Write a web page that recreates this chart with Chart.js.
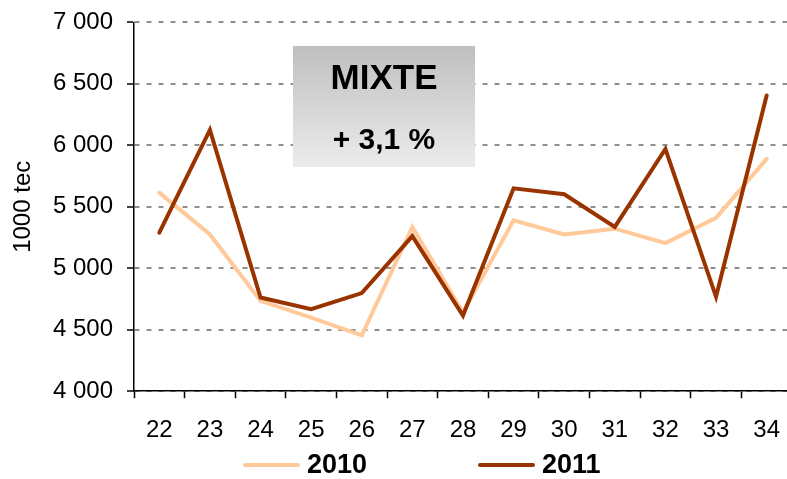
<!DOCTYPE html>
<html>
<head>
<meta charset="utf-8">
<script src="https://cdn.jsdelivr.net/npm/chart.js@4/dist/chart.umd.min.js"></script>
<style>
  html, body { margin: 0; padding: 0; background: #fff; overflow: hidden; }
  #wrap { position: relative; width: 787px; height: 479px; overflow: hidden; }
  #chart { position: absolute; left: 0; top: -6px; }
</style>
</head>
<body>
<div id="wrap"><canvas id="chart" width="798" height="485"></canvas></div>
<script>
// --- DATA ---
const weeks = ["22", "23", "24", "25", "26", "27", "28", "29", "30", "31", "32", "33", "34"];
const values2010 = [5615, 5275, 4735, 4598, 4455, 5335, 4640, 5390, 5275, 5322, 5205, 5410, 5890];
const values2011 = [5290, 6125, 4762, 4667, 4798, 5262, 4615, 5650, 5602, 5336, 5970, 4768, 6405];
const yTicks = [4000, 4500, 5000, 5500, 6000, 6500, 7000];
const boxTitle = "MIXTE";
const boxValue = "+ 3,1 %";

const FONT = "'Liberation Sans', Arial, sans-serif";
const OFF = 6; // canvas is shifted up by this many px

// thousands with a space : 7000 -> "7 000"
function fmt(v) {
  return String(v).replace(/\B(?=(\d{3})+(?!\d))/g, " ");
}

// grey box with the title, drawn over the grid but under the lines
const infoBox = {
  id: "infoBox",
  beforeDatasetsDraw(chart) {
    const ctx = chart.ctx;
    const x = 293, y = 46 + OFF, w = 182, h = 121;
    ctx.save();
    const grad = ctx.createLinearGradient(0, y, 0, y + h);
    grad.addColorStop(0, "#bfbfbf");
    grad.addColorStop(1, "#ececec");
    ctx.fillStyle = grad;
    ctx.fillRect(x, y, w, h);
    ctx.fillStyle = "#000";
    ctx.textAlign = "center";
    ctx.textBaseline = "middle";
    ctx.font = "bold 35px " + FONT;
    ctx.fillText(boxTitle, x + w / 2, 79 + OFF);
    ctx.font = "bold 30px " + FONT;
    ctx.fillText(boxValue, x + w / 2, 141 + OFF);
    ctx.restore();
  },
};

// legend at the bottom: short line + bold year
const bottomLegend = {
  id: "bottomLegend",
  afterDraw(chart) {
    const ctx = chart.ctx;
    const starts = [243, 478];
    const y = 465 + OFF;
    ctx.save();
    ctx.font = "bold 27px " + FONT;
    ctx.textBaseline = "middle";
    ctx.textAlign = "left";
    chart.data.datasets.forEach((ds, i) => {
      const x = starts[i];
      ctx.strokeStyle = ds.borderColor;
      ctx.lineWidth = 4;
      ctx.lineCap = "round";
      ctx.beginPath();
      ctx.moveTo(x + 2, y);
      ctx.lineTo(x + 55, y);
      ctx.stroke();
      ctx.fillStyle = "#000";
      ctx.fillText(ds.label, x + 64, y + 1);
    });
    ctx.restore();
  },
};

new Chart(document.getElementById("chart"), {
  type: "line",
  data: {
    labels: weeks,
    datasets: [
      {
        label: "2010",
        data: values2010,
        borderColor: "#ffc999",
        backgroundColor: "#ffc999",
        borderWidth: 4,
        order: 1,
      },
      {
        label: "2011",
        data: values2011,
        borderColor: "#993300",
        backgroundColor: "#993300",
        borderWidth: 4,
        order: 0,
      },
    ],
  },
  options: {
    responsive: false,
    animation: false,
    events: [],
    elements: {
      point: { radius: 0 },
      line: { tension: 0, borderCapStyle: "round", borderJoinStyle: "miter" },
    },
    layout: { padding: { top: 0, right: 0, bottom: 16, left: 0 } },
    plugins: {
      legend: { display: false },
      tooltip: { enabled: false },
    },
    scales: {
      x: {
        offset: true,
        grid: {
          offset: true,
          drawOnChartArea: false,
          drawTicks: true,
          tickLength: 7,
          tickColor: "#000",
          tickWidth: 1.5,
        },
        border: { color: "#000", width: 1.5 },
        ticks: {
          color: "#000",
          padding: 18,
          maxRotation: 0,
          autoSkip: false,
          font: { family: FONT, size: 24 },
        },
      },
      y: {
        min: yTicks[0],
        max: yTicks[yTicks.length - 1],
        afterBuildTicks: (scale) => {
          scale.ticks = yTicks.map((v) => ({ value: v }));
        },
        afterFit: (scale) => {
          scale.width = 134;
        },
        grid: {
          color: "#8f8f8f",
          lineWidth: 2,
          drawTicks: true,
          tickLength: 7,
          tickColor: "#000",
          tickWidth: 1.5,
          tickBorderDash: [],
        },
        border: { color: "#000", width: 1.5, dash: [5, 7] },
        ticks: {
          color: "#000",
          padding: 14,
          font: { family: FONT, size: 24 },
          callback: (v) => fmt(v),
        },
        title: {
          display: true,
          text: "1000 tec",
          color: "#000",
          padding: { top: 9, bottom: 0 },
          font: { family: FONT, size: 24 },
        },
      },
    },
  },
  plugins: [infoBox, bottomLegend],
});
</script>
</body>
</html>
